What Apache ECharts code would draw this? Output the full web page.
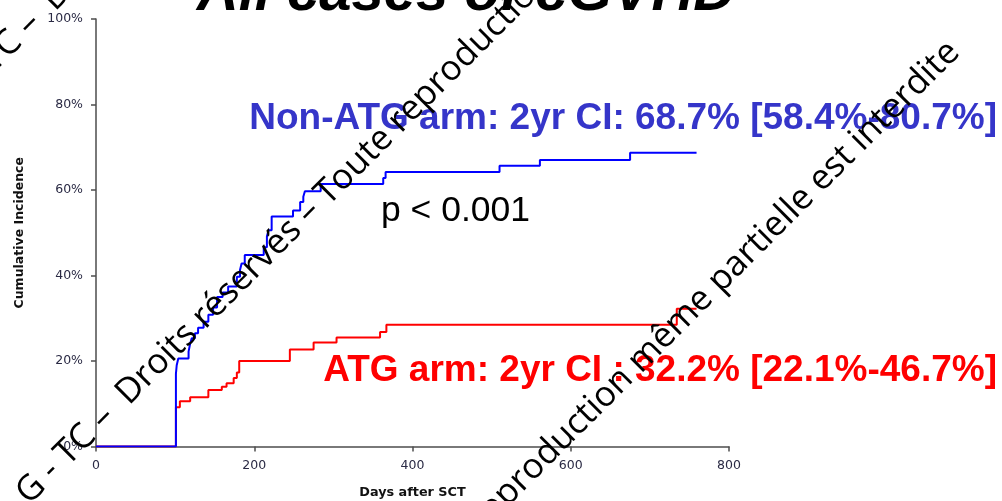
<!DOCTYPE html>
<html>
<head>
<meta charset="utf-8">
<script src="https://cdn.jsdelivr.net/npm/echarts@6/dist/echarts.min.js"></script>
<style>
  html, body { margin: 0; padding: 0; background: #ffffff; }
  #chart { width: 1002px; height: 501px; }
</style>
</head>
<body>
<div id="chart"></div>
<script>
// Cumulative incidence of chronic GVHD by arm (step curves, % vs days after SCT)
const nonAtgDays      = [0, 101, 102, 104, 117, 119, 121, 125, 129, 136, 142, 148, 153, 160, 167, 178, 182, 184, 188, 212, 216, 218, 222, 249, 258, 262, 264, 284, 363, 366, 510, 561, 675, 759];
const nonAtgIncidence = [0, 17.0, 19.0, 20.6, 22.2, 24.1, 25.3, 26.5, 27.8, 29.2, 30.8, 32.5, 35.0, 36.0, 37.4, 39.7, 41.3, 42.8, 44.8, 46.6, 49.1, 50.6, 53.8, 55.2, 57.2, 58.4, 59.7, 61.4, 62.8, 64.2, 65.7, 67.0, 68.7, 68.7];

const atgDays      = [0, 101, 106, 119, 142, 159, 165, 174, 178, 181, 245, 275, 304, 359, 367, 734, 759];
const atgIncidence = [0, 9.2, 10.6, 11.5, 13.2, 14.0, 14.8, 16.0, 17.3, 20.0, 22.7, 24.3, 25.5, 26.8, 28.5, 32.2, 32.2];

const xTickValues = [0, 200, 400, 600, 800];
const yTickValues = [0, 20, 40, 60, 80, 100];

const titleText   = 'All cases of cGVHD';
const nonAtgLabel = 'Non-ATG arm: 2yr CI: 68.7% [58.4%-80.7%]';
const atgLabel    = 'ATG arm: 2yr CI : 32.2% [22.1%-46.7%]';
const pValueText  = 'p < 0.001';
const xAxisName   = 'Days after SCT';
const yAxisName   = 'Cumulative Incidence';

const watermarkText = 'G - TC –  Droits réservés – Toute reproduction même partielle est interdite';

const pairs = (xs, ys) => xs.map((x, i) => [x, ys[i]]);

// Diagonal watermark rows: each row is anchored on the baseline-left corner of one word
const WM_SIZE = 35;
const WM_FAMILY = '"Open Sans", "Noto Sans", sans-serif';
const wmRows = [
  { word: 'Droits', x: 56,  y: 13 },
  { word: 'Droits', x: 130, y: 407 },
  { word: 'même',   x: 642, y: 375 }
];
const measureCtx = document.createElement('canvas').getContext('2d');
measureCtx.font = WM_SIZE + 'px ' + WM_FAMILY;
const C45 = Math.SQRT1_2;
const watermarkGraphics = wmRows.map(row => {
  const prefix = watermarkText.slice(0, watermarkText.indexOf(row.word));
  const w = measureCtx.measureText(prefix).width;
  // move back along the rotated baseline, then up to the text middle
  const bx = row.x - w * C45;
  const by = row.y + w * C45;
  const k = 0.33 * WM_SIZE;
  return {
    type: 'text',
    x: bx - k * C45,
    y: by - k * C45,
    rotation: Math.PI / 4,
    z: 100,
    style: {
      text: watermarkText,
      font: WM_SIZE + 'px ' + WM_FAMILY,
      fill: '#000000',
      align: 'left',
      verticalAlign: 'middle'
    }
  };
});

const chart = echarts.init(document.getElementById('chart'), null, { renderer: 'canvas' });

chart.setOption({
  animation: false,
  backgroundColor: '#ffffff',
  grid: { left: 96, right: 273, top: 19, bottom: 54.5, containLabel: false, outerBoundsMode: 'none' },
  xAxis: {
    type: 'value',
    min: xTickValues[0],
    max: xTickValues[xTickValues.length - 1],
    interval: 200,
    name: xAxisName,
    nameLocation: 'middle',
    nameGap: 40,
    nameTextStyle: { fontFamily: 'DejaVu Sans', fontWeight: 'bold', fontSize: 12.8, color: '#111111' },
    axisLine: { show: true, lineStyle: { color: '#4d4d4d', width: 1.5 } },
    axisTick: { show: true, length: 5, lineStyle: { color: '#4d4d4d', width: 1.5 } },
    axisLabel: { fontFamily: 'DejaVu Sans', fontSize: 12.5, color: '#2a2a44', margin: 13 },
    splitLine: { show: false }
  },
  yAxis: {
    type: 'value',
    min: yTickValues[0],
    max: yTickValues[yTickValues.length - 1],
    interval: 20,
    name: yAxisName,
    nameLocation: 'middle',
    nameGap: 70,
    nameTextStyle: { fontFamily: 'DejaVu Sans', fontWeight: 'bold', fontSize: 12.5, color: '#111111' },
    axisLine: { show: true, lineStyle: { color: '#4d4d4d', width: 1.5 } },
    axisTick: { show: true, length: 5, lineStyle: { color: '#4d4d4d', width: 1.5 } },
    axisLabel: { fontFamily: 'DejaVu Sans', fontSize: 12.5, color: '#2a2a44', margin: 13, formatter: '{value}%' },
    splitLine: { show: false }
  },
  series: [
    {
      name: 'ATG arm',
      type: 'line',
      step: 'end',
      showSymbol: false,
      data: pairs(atgDays, atgIncidence),
      lineStyle: { color: '#ff0000', width: 2 },
      itemStyle: { color: '#ff0000' },
      z: 3
    },
    {
      name: 'Non-ATG arm',
      type: 'line',
      step: 'end',
      showSymbol: false,
      data: pairs(nonAtgDays, nonAtgIncidence),
      lineStyle: { color: '#0000ff', width: 2 },
      itemStyle: { color: '#0000ff' },
      z: 4
    }
  ],
  graphic: [
    {
      type: 'text', x: 466, y: -6, z: 50,
      style: { text: titleText, font: 'italic bold 58px "Liberation Sans", Arial, sans-serif', fill: '#000000', align: 'center', verticalAlign: 'middle' }
    },
    {
      type: 'text', x: 997, y: 119, z: 50,
      style: { text: nonAtgLabel, font: 'bold 37px "Liberation Sans", Arial, sans-serif', fill: '#3535c9', align: 'right', verticalAlign: 'middle' }
    },
    {
      type: 'text', x: 997, y: 371, z: 50,
      style: { text: atgLabel, font: 'bold 37px "Liberation Sans", Arial, sans-serif', fill: '#ff0000', align: 'right', verticalAlign: 'middle' }
    },
    {
      type: 'text', x: 381, y: 211, z: 50,
      style: { text: pValueText, font: '35.5px "Liberation Sans", Arial, sans-serif', fill: '#000000', align: 'left', verticalAlign: 'middle' }
    }
  ].concat(watermarkGraphics)
});
</script>
</body>
</html>
